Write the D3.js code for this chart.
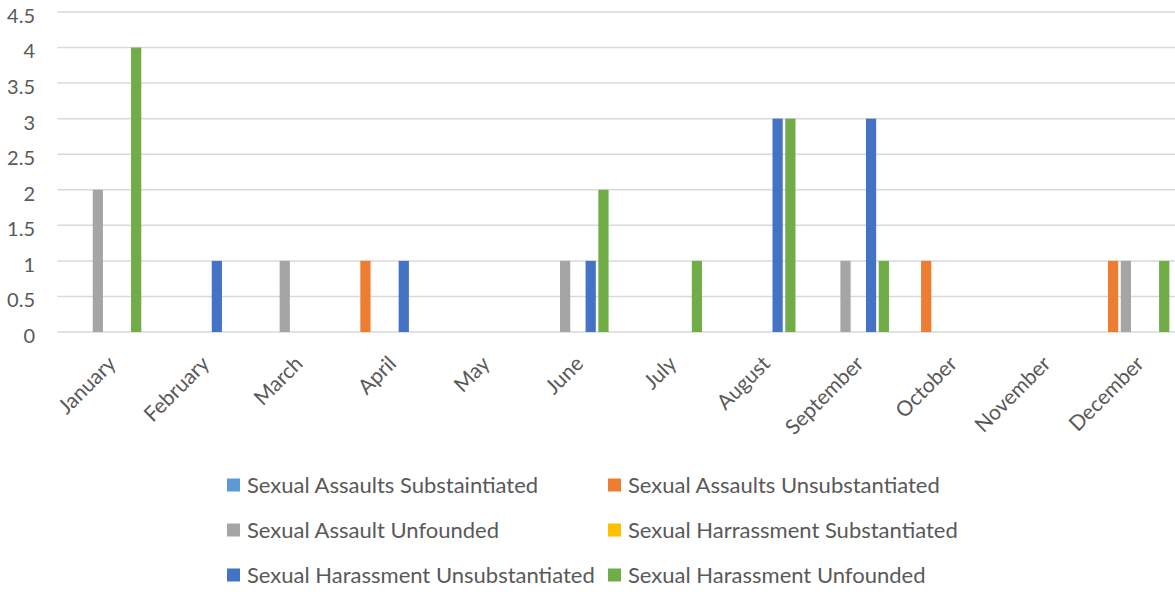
<!DOCTYPE html>
<html>
<head>
<meta charset="utf-8">
<script src="https://cdn.jsdelivr.net/npm/d3@7"></script>
<style>
  body { margin: 0; background: #fff; }
  svg text { font-family: Lato, "Open Sans", sans-serif; fill: #595959; }
</style>
</head>
<body>
<svg id="chart"></svg>
<script>
"use strict";

var width = 1175,
    height = 592;

var months = ["January", "February", "March", "April", "May", "June",
              "July", "August", "September", "October", "November", "December"];

var seriesNames = ["Sexual Assaults Substaintiated", "Sexual Assaults Unsubstantiated",
                   "Sexual Assault Unfounded", "Sexual Harrassment Substantiated",
                   "Sexual Harassment Unsubstantiated", "Sexual Harassment Unfounded"];

var seriesColors = ["#5B9BD5", "#ED7D31", "#A5A5A5", "#FFC000", "#4472C4", "#70AD47"];

// one array per series, Jan..Dec
var saSubstantiated   = [0, 0, 0, 0, 0, 0, 0, 0, 0, 0, 0, 0];
var saUnsubstantiated = [0, 0, 0, 1, 0, 0, 0, 0, 0, 1, 0, 1];
var saUnfounded       = [2, 0, 1, 0, 0, 1, 0, 0, 1, 0, 0, 1];
var shSubstantiated   = [0, 0, 0, 0, 0, 0, 0, 0, 0, 0, 0, 0];
var shUnsubstantiated = [0, 1, 0, 1, 0, 1, 0, 3, 3, 0, 0, 0];
var shUnfounded       = [4, 0, 0, 0, 0, 2, 1, 3, 1, 0, 0, 1];

var yTicks = [0, 0.5, 1, 1.5, 2, 2.5, 3, 3.5, 4, 4.5];

var seriesValues = [saSubstantiated, saUnsubstantiated, saUnfounded,
                    shSubstantiated, shUnsubstantiated, shUnfounded];

var svg = d3.select("#chart")
    .attr("width", width)
    .attr("height", height);

var x0 = d3.scaleBand()
    .domain(months)
    .range([57.5, 1179])
    .paddingInner(0)
    .paddingOuter(0);

var groupPad = 8.4;
var x1 = d3.scaleBand()
    .domain(d3.range(seriesNames.length))
    .range([groupPad, x0.bandwidth() - groupPad])
    .paddingInner(0.2)
    .paddingOuter(0.1);

var y = d3.scaleLinear()
    .domain([0, 4.5])
    .range([332, 12]);

// gridlines
svg.append("g")
    .selectAll("line")
    .data(yTicks)
    .enter().append("line")
    .attr("x1", 57.5)
    .attr("x2", width)
    .attr("y1", function (d) { return y(d); })
    .attr("y2", function (d) { return y(d); })
    .attr("stroke", "#D9D9D9")
    .attr("stroke-width", 1.5);

// y axis labels
var yAxis = svg.append("g")
    .attr("transform", "translate(35,0)")
    .call(d3.axisLeft(y).tickValues(yTicks).tickSize(0).tickPadding(0)
        .tickFormat(function (d) { return String(d); }));
yAxis.select(".domain").remove();
yAxis.selectAll("text")
    .attr("font-size", 20)
    .attr("font-family", null)
    .attr("fill", null)
    .attr("y", 4);

// bars
var bars = [];
seriesValues.forEach(function (vals, s) {
    vals.forEach(function (v, m) {
        if (v > 0) bars.push({ s: s, m: months[m], v: v });
    });
});

svg.append("g")
    .selectAll("rect")
    .data(bars)
    .enter().append("rect")
    .attr("x", function (d) { return x0(d.m) + x1(d.s); })
    .attr("y", function (d) { return y(d.v); })
    .attr("width", x1.bandwidth())
    .attr("height", function (d) { return y(0) - y(d.v); })
    .attr("fill", function (d) { return seriesColors[d.s]; });

// x axis labels, rotated
var xAxis = svg.append("g")
    .attr("transform", "translate(0," + y(0) + ")")
    .call(d3.axisBottom(x0).tickSize(0).tickPadding(0));
xAxis.select(".domain").remove();
xAxis.selectAll("text")
    .attr("font-size", 21)
    .attr("font-family", null)
    .attr("fill", null)
    .attr("text-anchor", "end")
    .attr("x", 0)
    .attr("y", 0)
    .attr("dy", null)
    .attr("transform", "translate(13,33) rotate(-45)");

// legend
var legendCols = [227, 608],
    legendRows = [485, 530, 575];

var legend = svg.append("g")
    .selectAll("g")
    .data(seriesNames)
    .enter().append("g")
    .attr("transform", function (d, i) {
        return "translate(" + legendCols[i % 2] + "," + legendRows[Math.floor(i / 2)] + ")";
    });

legend.append("rect")
    .attr("x", 0)
    .attr("y", -6.5)
    .attr("width", 13)
    .attr("height", 13)
    .attr("fill", function (d, i) { return seriesColors[i]; });

legend.append("text")
    .attr("x", 20)
    .attr("y", 0)
    .attr("dy", "0.36em")
    .attr("font-size", 22)
    .text(function (d) { return d; });
</script>
</body>
</html>
